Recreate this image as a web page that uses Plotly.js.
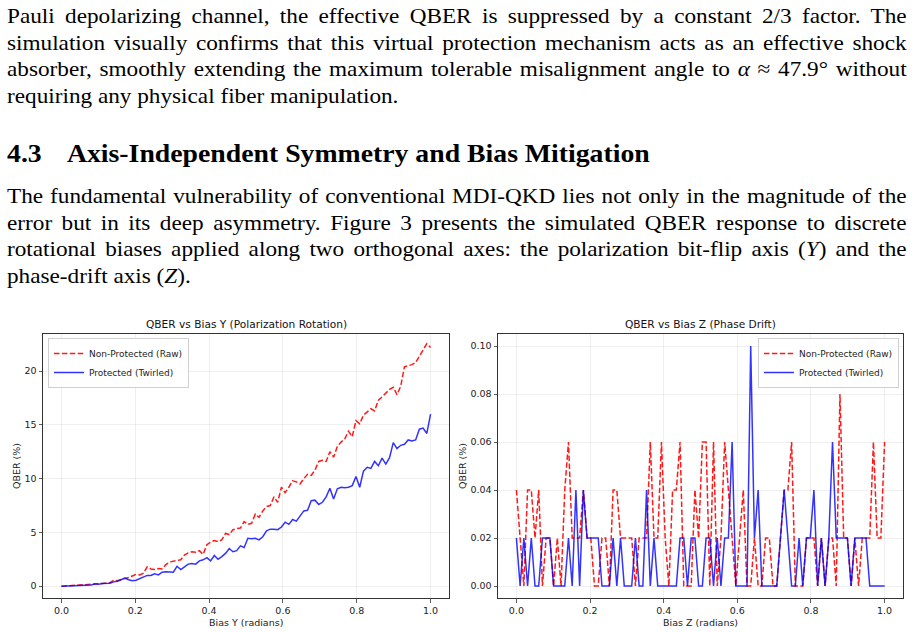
<!DOCTYPE html>
<html>
<head>
<meta charset="utf-8">
<script src="https://cdn.plot.ly/plotly-3.0.1.min.js"></script>
<style>
  html, body { margin: 0; padding: 0; background: #fff; }
  body { width: 914px; height: 633px; position: relative; overflow: hidden; }
  .ln {
    position: absolute; left: 7px; width: 833px; height: 27px; line-height: 27px;
    font-family: "Liberation Serif", "Times New Roman", serif; font-size: 21.5px; color: #000;
    white-space: nowrap; text-align: justify; text-align-last: justify;
    transform: scaleX(1.08); transform-origin: 0 0;
  }
  .ln.last { text-align: left; text-align-last: left; }
  .hd {
    position: absolute; left: 7px; height: 27px; line-height: 27px;
    font-family: "Liberation Serif", "Times New Roman", serif; font-size: 25px; font-weight: bold;
    white-space: nowrap; transform: scaleX(1.11); transform-origin: 0 0;
  }
  .hd .num { display: inline-block; width: 54px; }
  i { font-style: italic; }
  #fig { position: absolute; left: 0; top: 310px; width: 914px; height: 323px; }
</style>
</head>
<body>
<div class="ln" style="top:3px">Pauli depolarizing channel, the effective QBER is suppressed by a constant 2/3 factor. The</div>
<div class="ln" style="top:30px">simulation visually confirms that this virtual protection mechanism acts as an effective shock</div>
<div class="ln" style="top:56px">absorber, smoothly extending the maximum tolerable misalignment angle to <i>α</i> ≈ 47.9° without</div>
<div class="ln last" style="top:83px">requiring any physical fiber manipulation.</div>

<div class="hd" style="top:140px"><span class="num">4.3</span>Axis-Independent Symmetry and Bias Mitigation</div>

<div class="ln" style="top:183px">The fundamental vulnerability of conventional MDI-QKD lies not only in the magnitude of the</div>
<div class="ln" style="top:210px">error but in its deep asymmetry. Figure 3 presents the simulated QBER response to discrete</div>
<div class="ln" style="top:236px">rotational biases applied along two orthogonal axes: the polarization bit-flip axis (<i>Y</i>) and the</div>
<div class="ln last" style="top:263px">phase-drift axis (<i>Z</i>).</div>

<div id="fig"></div>

<script>
// Bias sweep: 100 equally spaced angles from 0 to 1 rad
const biasRad = Array.from({length: 100}, (_, i) => i / 99);

// QBER (%) under a bias about the Y axis (polarization rotation)
const qberYRaw = [
  0.00, 0.02, 0.05, 0.03, 0.08, 0.10, 0.12, 0.10, 0.18, 0.20,
  0.22, 0.25, 0.30, 0.32, 0.55, 0.50, 0.62, 0.70, 0.80, 0.95,
  1.10, 1.05, 1.20, 1.80, 1.60, 1.55, 1.65, 1.60, 2.00, 2.25,
  2.30, 2.40, 2.45, 2.90, 3.10, 3.20, 3.15, 3.30, 2.95, 3.85,
  4.10, 4.25, 4.15, 4.30, 4.90, 4.80, 5.25, 5.35, 5.40, 6.00,
  5.75, 5.85, 6.70, 6.40, 7.00, 7.40, 7.50, 8.30, 7.80, 9.20,
  8.70, 9.20, 9.80, 9.70, 9.50, 10.00, 10.40, 10.30, 10.80, 11.60,
  11.70, 11.60, 12.50, 12.00, 13.00, 13.40, 13.70, 14.40, 13.90, 15.40,
  15.10, 15.90, 16.20, 16.50, 16.30, 17.30, 17.60, 18.00, 18.30, 18.50,
  17.80, 18.60, 20.40, 20.50, 20.60, 20.80, 21.40, 21.90, 22.55, 22.20
];
const qberYTwirled = [
  0.00, 0.01, 0.02, 0.03, 0.03, 0.05, 0.08, 0.10, 0.12, 0.22,
  0.18, 0.25, 0.30, 0.28, 0.40, 0.45, 0.60, 0.75, 0.60, 0.50,
  0.55, 0.70, 0.90, 1.00, 1.00, 1.15, 1.05, 1.30, 1.35, 1.35,
  1.30, 1.85, 1.55, 1.80, 2.05, 2.10, 2.05, 2.35, 2.45, 2.65,
  2.35, 2.85, 2.50, 2.75, 3.05, 3.50, 3.20, 3.30, 3.75, 3.60,
  4.45, 4.40, 4.45, 4.30, 4.60, 5.15, 5.30, 5.30, 5.25, 5.50,
  5.95, 5.75, 6.20, 6.05, 6.50, 7.00, 7.05, 7.95, 8.00, 7.60,
  7.80, 8.30, 9.10, 8.10, 9.05, 9.20, 9.15, 9.20, 9.35, 10.20,
  9.20, 10.70, 11.05, 10.95, 11.60, 11.20, 11.90, 11.35, 11.95, 13.35,
  12.80, 13.10, 13.20, 13.60, 13.50, 13.60, 14.60, 14.70, 14.20, 16.00
];

// QBER (%) under a bias about the Z axis (phase drift)
const qberZRaw = [
  0.04, 0.02, 0.00, 0.04, 0.04, 0.02, 0.04, 0.00, 0.02, 0.02,
  0.00, 0.02, 0.00, 0.04, 0.06, 0.02, 0.02, 0.02, 0.04, 0.02,
  0.02, 0.00, 0.00, 0.02, 0.02, 0.00, 0.04, 0.04, 0.02, 0.02,
  0.02, 0.02, 0.00, 0.02, 0.02, 0.02, 0.06, 0.02, 0.02, 0.06,
  0.02, 0.00, 0.04, 0.04, 0.06, 0.00, 0.00, 0.00, 0.04, 0.02,
  0.06, 0.06, 0.00, 0.06, 0.00, 0.02, 0.06, 0.04, 0.02, 0.00,
  0.02, 0.04, 0.00, 0.00, 0.02, 0.00, 0.00, 0.02, 0.02, 0.00,
  0.00, 0.02, 0.04, 0.04, 0.06, 0.00, 0.00, 0.00, 0.02, 0.02,
  0.02, 0.00, 0.02, 0.00, 0.02, 0.02, 0.00, 0.08, 0.02, 0.02,
  0.00, 0.02, 0.00, 0.02, 0.02, 0.02, 0.06, 0.02, 0.02, 0.06
];
const qberZTwirled = [
  0.02, 0.00, 0.02, 0.00, 0.02, 0.00, 0.00, 0.02, 0.02, 0.02,
  0.00, 0.00, 0.00, 0.00, 0.02, 0.00, 0.04, 0.00, 0.04, 0.02,
  0.02, 0.02, 0.02, 0.00, 0.00, 0.00, 0.02, 0.00, 0.02, 0.00,
  0.00, 0.00, 0.02, 0.00, 0.00, 0.04, 0.00, 0.02, 0.00, 0.00,
  0.00, 0.00, 0.00, 0.00, 0.02, 0.02, 0.00, 0.02, 0.02, 0.00,
  0.00, 0.02, 0.02, 0.00, 0.02, 0.00, 0.02, 0.02, 0.06, 0.00,
  0.00, 0.00, 0.00, 0.10, 0.02, 0.04, 0.00, 0.00, 0.00, 0.00,
  0.00, 0.02, 0.04, 0.02, 0.00, 0.00, 0.02, 0.00, 0.02, 0.02,
  0.04, 0.00, 0.02, 0.00, 0.02, 0.06, 0.02, 0.02, 0.02, 0.02,
  0.00, 0.02, 0.02, 0.02, 0.02, 0.00, 0.00, 0.00, 0.00, 0.00
];

const seriesNames = ['Non-Protected (Raw)', 'Protected (Twirled)'];
const panelTitles = ['QBER vs Bias Y (Polarization Rotation)', 'QBER vs Bias Z (Phase Drift)'];
const xTitles = ['Bias Y (radians)', 'Bias Z (radians)'];
const yTitle = 'QBER (%)';

const RED = 'rgba(255,0,0,0.9)';
const BLUE = 'rgba(0,0,255,0.8)';
const FONT = 'DejaVu Sans, sans-serif';

function rawTrace(y, xa, ya, lg) {
  return { x: biasRad, y: y, xaxis: xa, yaxis: ya, legend: lg, name: seriesNames[0],
    type: 'scatter', mode: 'lines', line: { color: RED, width: 1.5, dash: '5.5px,2.4px' } };
}
function twirlTrace(y, xa, ya, lg) {
  return { x: biasRad, y: y, xaxis: xa, yaxis: ya, legend: lg, name: seriesNames[1],
    type: 'scatter', mode: 'lines', line: { color: BLUE, width: 1.5 } };
}

const traces = [
  rawTrace(qberYRaw, 'x', 'y', 'legend'),
  twirlTrace(qberYTwirled, 'x', 'y', 'legend'),
  rawTrace(qberZRaw, 'x2', 'y2', 'legend2'),
  twirlTrace(qberZTwirled, 'x2', 'y2', 'legend2')
];

const W = 914, H = 323;
const dom1 = [43 / W, 449 / W];
const dom2 = [498 / W, 903 / W];
const ydom = [1 - 288 / H, 1 - 24 / H];

const axisCommon = {
  showline: true, mirror: true, linecolor: '#333', linewidth: 1,
  showgrid: true, gridcolor: 'rgba(0,0,0,0.08)', gridwidth: 0.8,
  zeroline: false, ticks: 'outside', ticklen: 3.5, tickwidth: 0.8, tickcolor: '#333',
  tickfont: { family: FONT, size: 9.5, color: '#222' }, fixedrange: true
};

const legendCommon = {
  bgcolor: 'rgba(255,255,255,0.85)', bordercolor: '#d0d0d0', borderwidth: 1,
  font: { family: FONT, size: 9, color: '#222' }, yanchor: 'top', tracegroupgap: 0,
  itemwidth: 30
};

function cx(d) { return (d[0] + d[1]) / 2; }
const ymid = (ydom[0] + ydom[1]) / 2;

const layout = {
  width: W, height: H,
  margin: { l: 0, r: 0, t: 0, b: 0 },
  paper_bgcolor: '#fff', plot_bgcolor: '#fff',
  showlegend: true,
  xaxis: Object.assign({}, axisCommon, { domain: dom1, anchor: 'y', range: [-0.05, 1.05],
    tickvals: [0, 0.2, 0.4, 0.6, 0.8, 1.0], tickformat: '.1f' }),
  yaxis: Object.assign({}, axisCommon, { domain: ydom, anchor: 'x', range: [-1.1, 23.45],
    tickvals: [0, 5, 10, 15, 20] }),
  xaxis2: Object.assign({}, axisCommon, { domain: dom2, anchor: 'y2', range: [-0.05, 1.05],
    tickvals: [0, 0.2, 0.4, 0.6, 0.8, 1.0], tickformat: '.1f' }),
  yaxis2: Object.assign({}, axisCommon, { domain: ydom, anchor: 'x2', range: [-0.005, 0.105],
    tickvals: [0, 0.02, 0.04, 0.06, 0.08, 0.10], tickformat: '.2f' }),
  legend: Object.assign({}, legendCommon, { x: 48 / W, xanchor: 'left', y: 1 - 28 / H }),
  legend2: Object.assign({}, legendCommon, { x: 899 / W, xanchor: 'right', y: 1 - 28 / H }),
  annotations: [
    { text: panelTitles[0], x: cx(dom1), y: 1 - 14 / H },
    { text: panelTitles[1], x: cx(dom2), y: 1 - 14 / H },
    { text: xTitles[0], x: cx(dom1), y: 1 - 312 / H, font: { family: FONT, size: 9.5, color: '#222' } },
    { text: xTitles[1], x: cx(dom2), y: 1 - 312 / H, font: { family: FONT, size: 9.5, color: '#222' } },
    { text: yTitle, x: 16 / W, y: ymid, textangle: -90, font: { family: FONT, size: 9.5, color: '#222' } },
    { text: yTitle, x: 462 / W, y: ymid, textangle: -90, font: { family: FONT, size: 9.5, color: '#222' } }
  ].map(a => Object.assign({ xref: 'paper', yref: 'paper', showarrow: false,
    xanchor: 'center', yanchor: 'middle', font: { family: FONT, size: 10.6, color: '#111' } }, a))
};

Plotly.newPlot('fig', traces, layout, { staticPlot: true, displayModeBar: false });
</script>
</body>
</html>
